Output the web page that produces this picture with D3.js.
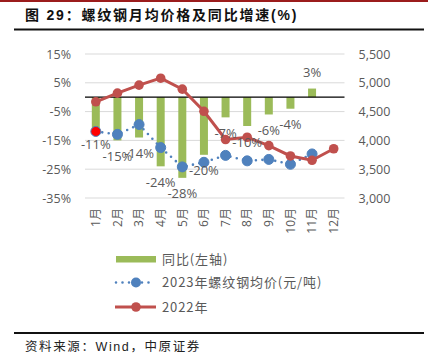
<!DOCTYPE html>
<html>
<head>
<meta charset="utf-8">
<script src="https://cdn.jsdelivr.net/npm/d3@7"></script>
<style>
  body { margin: 0; background: #fff; }
  svg text { font-family: "Open Sans", "Noto Sans CJK SC", sans-serif; }
</style>
</head>
<body>
<div id="chart"></div>
<script>
const months = ['1月', '2月', '3月', '4月', '5月', '6月', '7月', '8月', '9月', '10月', '11月', '12月'];
// 同比 (%), 2023 vs 2022 -- no value for Dec
const yoy = [-11, -15, -14, -24, -28, -20, -7, -10, -6, -4, 3];
// 2023 rebar monthly average price (yuan/ton)
const price2023 = [4155, 4105, 4275, 3875, 3540, 3620, 3740, 3645, 3670, 3585, 3765];
// 2022 rebar monthly average price
const price2022 = [4670, 4820, 4960, 5080, 4890, 4505, 4015, 4055, 3910, 3730, 3655, 3855];
const leftTicks = [15, 5, -5, -15, -25, -35];
const rightTicks = [5500, 5000, 4500, 4000, 3500, 3000];

const width = 434;
const height = 360;
const plotLeft = 85;
const plotRight = 344.5;
const plotTop = 54;
const plotBottom = 198;

const svg = d3.select('#chart').append('svg')
    .attr('width', width)
    .attr('height', height);

// header / footer rules
svg.append('rect').attr('x', 0).attr('y', 0).attr('width', 428).attr('height', 2).attr('fill', '#9b1c1c');
svg.append('rect').attr('x', 14).attr('y', 28.5).attr('width', 410).attr('height', 2).attr('fill', '#111');
svg.append('rect').attr('x', 14).attr('y', 332).attr('width', 410).attr('height', 2).attr('fill', '#111');

svg.append('text')
    .attr('x', 25)
    .attr('y', 20)
    .attr('font-size', 14)
    .attr('font-weight', 'bold')
    .attr('letter-spacing', 1.8)
    .attr('fill', '#111')
    .style('font-family', '"Liberation Sans", "Noto Sans CJK SC", sans-serif')
    .text('图 29：螺纹钢月均价格及同比增速(%)');

svg.append('text')
    .attr('x', 25)
    .attr('y', 351)
    .attr('font-size', 12.5)
    .attr('letter-spacing', 1.6)
    .attr('fill', '#222')
    .style('font-family', '"Liberation Sans", "Noto Sans CJK SC", sans-serif')
    .text('资料来源：Wind，中原证券');

const x = d3.scaleBand().domain(months).range([plotLeft, plotRight]);
const cx = function (m) { return x(m) + x.bandwidth() / 2; };

const yLeft = d3.scaleLinear().domain([-35, 15]).range([plotBottom, plotTop]);
const yRight = d3.scaleLinear().domain([3000, 5500]).range([plotBottom, plotTop]);

// gridlines
svg.append('g')
    .selectAll('line')
    .data(leftTicks)
  .join('line')
    .attr('x1', plotLeft)
    .attr('x2', plotRight)
    .attr('y1', d => yLeft(d))
    .attr('y2', d => yLeft(d))
    .attr('stroke', '#d9d9d9')
    .attr('stroke-width', 1);

const leftAxis = svg.append('g')
    .attr('transform', `translate(${plotLeft}, 0)`)
    .call(d3.axisLeft(yLeft).tickValues(leftTicks).tickSize(0).tickPadding(14)
      .tickFormat(d => d + '%'));
leftAxis.select('.domain').remove();
leftAxis.selectAll('text').attr('font-size', 12.5).attr('fill', '#595959')
    .style('font-family', '"Open Sans", sans-serif');

const rightAxis = svg.append('g')
    .attr('transform', `translate(${plotRight}, 0)`)
    .call(d3.axisRight(yRight).tickValues(rightTicks).tickSize(0).tickPadding(14)
      .tickFormat(d3.format(',')));
rightAxis.select('.domain').remove();
rightAxis.selectAll('text').attr('font-size', 12.5).attr('fill', '#595959')
    .style('font-family', '"Open Sans", sans-serif');

// month labels, rotated
svg.append('g')
    .selectAll('text')
    .data(months)
  .join('text')
    .attr('transform', d => `translate(${cx(d)}, 208) rotate(-90)`)
    .attr('text-anchor', 'end')
    .attr('dy', '0.35em')
    .attr('font-size', 12)
    .attr('fill', '#595959')
    .text(d => d);

// bars
const barW = 8;
const yoyData = yoy.map((v, i) => ({ m: months[i], v: v }));

svg.append('g')
    .selectAll('rect')
    .data(yoyData)
  .join('rect')
    .attr('x', d => cx(d.m) - barW / 2)
    .attr('width', barW)
    .attr('y', d => Math.min(yLeft(0), yLeft(d.v)))
    .attr('height', d => Math.abs(yLeft(d.v) - yLeft(0)))
    .attr('fill', '#9bbb59');

// zero line
svg.append('line')
    .attr('x1', plotLeft)
    .attr('x2', plotRight)
    .attr('y1', yLeft(0))
    .attr('y2', yLeft(0))
    .attr('stroke', '#000')
    .attr('stroke-width', 1.3);

// 2023 dotted line
const p23 = price2023.map((v, i) => ({ m: months[i], v: v }));
const line = d3.line().x(d => cx(d.m)).y(d => yRight(d.v));

svg.append('path')
    .datum(p23)
    .attr('d', line)
    .attr('fill', 'none')
    .attr('stroke', '#4f81bd')
    .attr('stroke-width', 2.6)
    .attr('stroke-linecap', 'round')
    .attr('stroke-dasharray', '0 6.5');

svg.append('g')
    .selectAll('circle')
    .data(p23)
  .join('circle')
    .attr('cx', d => cx(d.m))
    .attr('cy', d => yRight(d.v))
    .attr('r', 5)
    .attr('fill', (d, i) => i === 0 ? '#ff0000' : '#4f81bd')
    .attr('stroke', '#4f81bd')
    .attr('stroke-width', 1);

// 2022 line
const p22 = price2022.map((v, i) => ({ m: months[i], v: v }));

svg.append('path')
    .datum(p22)
    .attr('d', line)
    .attr('fill', 'none')
    .attr('stroke', '#c0504d')
    .attr('stroke-width', 3);

svg.append('g')
    .selectAll('circle')
    .data(p22)
  .join('circle')
    .attr('cx', d => cx(d.m))
    .attr('cy', d => yRight(d.v))
    .attr('r', 4.8)
    .attr('fill', '#c0504d');

// yoy data labels, just beyond bar end
svg.append('g')
    .selectAll('text')
    .data(yoyData)
  .join('text')
    .attr('x', d => cx(d.m))
    .attr('y', d => yLeft(d.v) + (d.v < 0 ? 16 : -16))
    .attr('dy', '0.35em')
    .attr('text-anchor', 'middle')
    .attr('font-size', 13)
    .attr('fill', '#595959')
    .text(d => d.v + '%');

// legend
const legendX = 115;
const legend = svg.append('g');
const legendText = function (y, label) {
  legend.append('text')
      .attr('x', legendX + 47)
      .attr('y', y)
      .attr('dy', '0.35em')
      .attr('font-size', 13)
      .attr('letter-spacing', 0.9)
      .attr('fill', '#595959')
      .style('font-family', '"Noto Sans CJK SC", sans-serif')
      .text(label);
};

legend.append('rect')
    .attr('x', legendX + 1)
    .attr('y', 256)
    .attr('width', 40)
    .attr('height', 6.5)
    .attr('fill', '#9bbb59');
legendText(259, '同比(左轴)');

legend.append('line')
    .attr('x1', legendX + 1).attr('x2', legendX + 40)
    .attr('y1', 282.5).attr('y2', 282.5)
    .attr('stroke', '#4f81bd')
    .attr('stroke-width', 2.6)
    .attr('stroke-linecap', 'round')
    .attr('stroke-dasharray', '0 6.5');
legend.append('circle').attr('cx', legendX + 21).attr('cy', 282.5).attr('r', 5).attr('fill', '#4f81bd');
legendText(282.5, '2023年螺纹钢均价(元/吨)');

legend.append('line')
    .attr('x1', legendX).attr('x2', legendX + 41)
    .attr('y1', 307).attr('y2', 307)
    .attr('stroke', '#c0504d')
    .attr('stroke-width', 3);
legend.append('circle').attr('cx', legendX + 21).attr('cy', 307).attr('r', 4.8).attr('fill', '#c0504d');
legendText(307, '2022年');
</script>
</body>
</html>
